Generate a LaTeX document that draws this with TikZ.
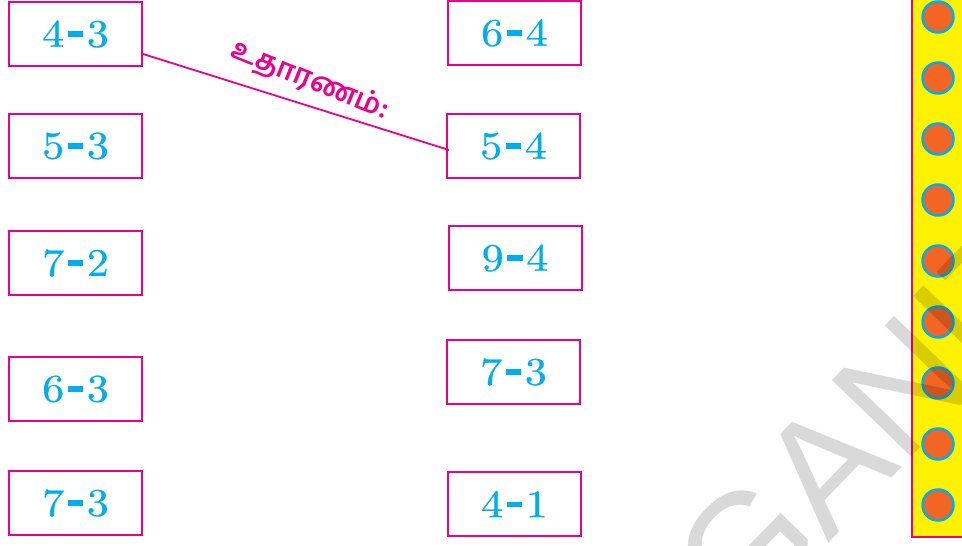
\documentclass[tikz,border=0pt]{standalone}
\usepackage{fontspec}
\newfontfamily\tamilfont[Script=Tamil]{Hind Madurai}
\newfontfamily\wmfont{Liberation Sans}
\newfontfamily\digfont[FakeBold=0.6]{lmroman10-regular.otf}
\definecolor{mag}{HTML}{EC008C}
\definecolor{cyn}{HTML}{00AEEF}
\definecolor{yel}{HTML}{FFF200}
\definecolor{org}{HTML}{F26522}
\newcommand\dsh{\kern3pt\rule[10pt]{14pt}{5.5pt}\kern3pt}
\newcommand\sumtxt[2]{\scalebox{1.13}[1]{#1\dsh #2}}
\begin{document}
\begin{tikzpicture}[x=1pt,y=-1pt,
  sumbox/.style={draw=mag,line width=2pt,minimum width=133pt,minimum height=64pt,
    inner sep=0pt,text=cyn,font=\digfont\fontsize{39}{39}\selectfont},
  dot/.style={circle,fill=org,draw=cyn,line width=2.5pt,minimum size=31pt,inner sep=0pt}]
\useasboundingbox (0,0) rectangle (962,546);
\clip (0,0) rectangle (962,546);
% yellow strip
\fill[yel] (912,-5) rectangle (970,537);
\draw[mag,line width=2.5pt] (912,-5) -- (912,537) -- (970,537);
\foreach \i in {0,...,8} \node[dot] (c\i) at (938,17+61*\i) {};
% left column
\node[sumbox] (a1) at (75.5,34) {\sumtxt{4}{3}};
\node[sumbox] (a2) at (75.5,146) {\sumtxt{5}{3}};
\node[sumbox] (a3) at (75.5,263) {\sumtxt{7}{2}};
\node[sumbox] (a4) at (75.5,389) {\sumtxt{6}{3}};
\node[sumbox] (a5) at (75.5,503) {\sumtxt{7}{3}};
% right column
\node[sumbox] (b1) at (514.5,33) {\sumtxt{6}{4}};
\node[sumbox] (b2) at (513.5,146) {\sumtxt{5}{4}};
\node[sumbox] (b3) at (515,258) {\sumtxt{9}{4}};
\node[sumbox] (b4) at (513.5,372) {\sumtxt{7}{3}};
\node[sumbox] (b5) at (514.5,504) {\sumtxt{4}{1}};
% example line
\draw[mag,line width=1.8pt] ([yshift=-20pt]a1.east) -- ([xshift=3pt,yshift=-4pt]b2.west);
\node[text=mag,rotate=-22,font=\tamilfont\bfseries\fontsize{29}{29}\selectfont] (lbl) at (310,81) {உதாரணம்:};
% watermark
\node[fill opacity=0.15,text opacity=0.15,text=black,rotate=46,anchor=base west,
  font=\wmfont\fontsize{160}{160}\selectfont,inner sep=0pt] (wm) at (742,633) {GANITHAM};
\end{tikzpicture}
\end{document}
